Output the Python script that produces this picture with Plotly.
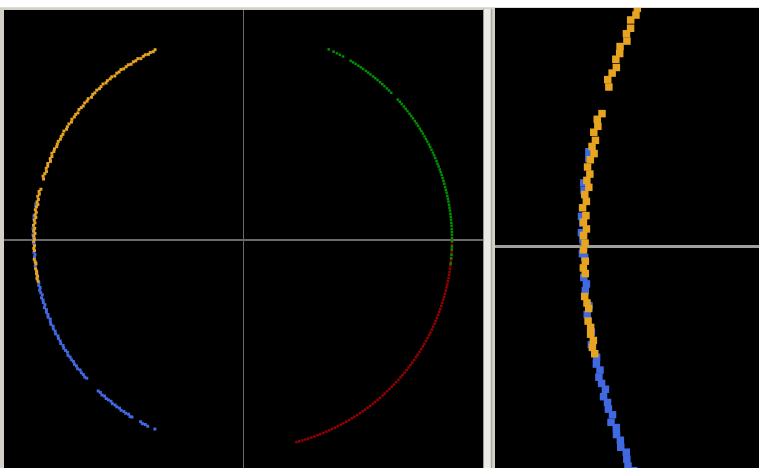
import math
import plotly.graph_objects as go

# ---- data: points on a unit circle, read as (angle in degrees, radius) ----
orange_deg = [114.8, 115.5, 116.3, 117.0, 117.8, 118.5, 119.4, 120.1, 120.9, 121.6,
              122.5, 123.2, 124.0, 124.9, 125.6, 126.4, 127.1, 128.0, 128.8, 129.5,
              130.4, 131.1, 131.9, 132.8, 133.5, 134.3, 135.2, 135.9, 136.7, 137.6,
              138.3, 139.1, 140.0, 140.7, 141.5, 142.4, 143.1, 143.9, 144.8, 145.5,
              146.3, 147.2, 147.9, 148.7, 149.6, 150.3, 151.1, 151.9, 152.7, 153.4,
              154.2, 154.9, 155.6, 156.4, 157.1, 157.8, 158.6, 159.3, 160.0, 160.8,
              161.5, 162.3, 163.0,
              165.9, 166.6, 167.3, 168.0, 168.8, 169.5, 170.2, 170.9, 171.7, 172.4,
              173.1, 173.8, 174.6, 175.3, 176.0, 176.8, 177.5, 178.2, 178.9, 179.7,
              180.4, 181.6, 182.3, 182.9, 185.3, 186.0, 186.6, 187.9, 188.6, 189.3,
              190.0, 190.7, 191.4]
orange_r = [1.003, 0.998, 1.001, 0.997, 1.002, 1.000, 0.996, 1.003, 0.999, 1.001,
            0.997, 1.002, 1.000, 0.998, 1.003, 0.999, 1.001, 0.996, 1.002, 0.999,
            1.001, 0.997, 1.003, 1.000, 0.998, 1.002, 0.999, 1.001, 0.996, 1.003,
            0.999, 1.002, 0.998, 1.000, 1.003, 0.997, 1.001, 0.999, 1.002, 0.996,
            1.001, 1.000, 0.997, 1.003, 0.999, 1.001, 0.998, 1.002, 1.000, 0.997,
            1.002, 0.999, 1.004, 0.998, 1.001, 0.995, 1.003, 0.999, 1.002, 0.996,
            1.000, 1.004, 0.998,
            0.997, 1.003, 0.999, 1.004, 0.998, 1.002, 0.996, 1.001, 1.004, 0.998,
            1.002, 0.997, 1.003, 0.999, 1.005, 0.998, 1.002, 0.996, 1.001, 0.998,
            1.001, 0.998, 1.002, 0.999, 1.003, 1.000, 0.998, 1.002, 0.999, 1.001,
            0.998, 1.002, 1.000]

blue_deg = [170.1, 170.8, 173.4, 174.2, 176.9, 177.6, 178.6, 179.3, 180.1, 180.8,
            181.2, 183.3, 184.0, 184.7, 186.3, 187.2, 189.1, 190.4, 191.8, 192.5,
            193.2, 193.9, 194.6, 195.3, 196.0, 196.7, 197.4, 198.1, 198.8, 199.5,
            200.2, 200.9, 201.6, 202.3, 203.0, 203.7, 204.4, 205.1, 205.9, 206.6,
            207.4, 208.1, 208.9, 209.6, 210.4, 211.1, 211.9, 212.6, 213.4, 214.1,
            214.9, 215.6, 216.4, 217.1, 217.9, 218.6, 219.4, 220.1, 220.9, 221.5,
            226.2, 226.9, 227.7, 228.4, 229.2, 229.9, 230.7, 231.4, 232.2, 232.9,
            233.7, 234.4, 235.2, 235.9, 236.7, 237.4, 237.9, 240.6, 241.3, 242.1,
            242.9, 245.0]
blue_r = [1.006, 1.004, 1.007, 1.005, 1.006, 1.003, 1.005, 1.002, 1.001, 1.003,
          0.999, 1.002, 0.998, 1.001, 0.997, 1.002, 0.999, 1.003, 0.998, 1.001,
          0.997, 1.002, 1.000, 0.996, 1.003, 0.999, 1.001, 0.997, 1.004, 0.998,
          1.002, 0.999, 1.003, 0.997, 1.001, 1.004, 0.998, 1.002, 0.999, 1.003,
          0.997, 1.001, 0.999, 1.003, 0.998, 1.002, 1.000, 0.997, 1.003, 0.999,
          1.001, 0.998, 1.002, 0.999, 1.003, 0.997, 1.001, 0.999, 1.002, 0.998,
          1.001, 0.999, 1.003, 0.998, 1.002, 1.000, 0.997, 1.002, 0.999, 1.001,
          0.998, 1.002, 0.999, 1.001, 0.997, 1.003, 1.000, 0.998, 1.002, 0.999,
          1.001, 0.998]

green_deg = [65.8, 64.3, 63.3, 62.4, 61.4,
             59.0, 58.2, 57.4, 56.5, 55.7, 54.9, 54.0, 53.2, 52.4, 51.5, 50.7, 49.9,
             49.0, 48.2, 47.4, 46.5, 45.7, 44.8,
             42.2, 41.4, 40.6, 39.7, 38.9, 38.1, 37.2, 36.4, 35.6, 34.7, 33.9, 33.1,
             32.2, 31.4, 30.6, 29.7, 28.9, 28.1, 27.2, 26.4, 25.6, 24.7, 23.9, 23.1,
             22.2, 21.4, 20.6, 19.7, 18.9, 18.1, 17.2, 16.4, 15.6, 14.7, 13.9, 13.1,
             12.2, 11.4, 10.6, 9.7, 8.9, 8.1, 7.2, 6.4, 5.6, 4.7, 3.9, 3.0, 2.2, 1.4,
             0.5, -0.3, -1.8, -2.6, -4.1, -5.0, -6.5]

red_deg = [0.4, -0.5, -1.4, -2.9, -3.7, -5.3, -6.1, -7.0, -7.9, -8.8,
           -9.6, -10.5, -11.4, -12.3, -13.1, -14.0, -14.9, -15.8, -16.6, -17.5,
           -18.4, -19.3, -20.1, -21.0, -21.9, -22.8, -23.6, -24.5, -25.4, -26.3,
           -27.1, -28.0, -28.9, -29.8, -30.6, -31.5, -32.4, -33.3, -34.1, -35.0,
           -35.9, -36.8, -37.6, -38.5, -39.4, -40.3, -41.1, -42.0, -42.9, -43.8,
           -44.6, -45.5, -46.4, -47.3, -48.1, -49.0, -49.9, -50.8, -51.6, -52.5,
           -53.4, -54.3, -55.1, -56.0, -56.9, -57.8, -58.6, -59.5, -60.4, -61.3,
           -62.1, -63.0, -63.9, -64.8, -65.6, -66.5, -67.4, -68.3, -69.1, -70.0,
           -70.9, -71.8, -72.6, -73.5, -74.4, -75.2]
circle_r = 1.0

W, H = 759, 468


def to_xy(degs, radii):
    xs = [r * math.cos(math.radians(d)) for d, r in zip(degs, radii)]
    ys = [r * math.sin(math.radians(d)) for d, r in zip(degs, radii)]
    return xs, ys


series = [
    ("blue", blue_deg, blue_r, "#4169e1", 3.0),
    ("orange", orange_deg, orange_r, "#e6a420", 3.0),
    ("red", red_deg, [circle_r] * len(red_deg), "#960000", 2.5),
    ("green", green_deg, [circle_r] * len(green_deg), "#009000", 2.5),
]

fig = go.Figure()
for name, degs, radii, col, sz in series:
    xs, ys = to_xy(degs, radii)
    fig.add_trace(go.Scatter(x=xs, y=ys, mode="markers", name=name,
                             marker=dict(symbol="square", size=sz, color=col, line=dict(width=0)),
                             xaxis="x", yaxis="y", hoverinfo="skip"))
    fig.add_trace(go.Scatter(x=xs, y=ys, mode="markers", name=name,
                             marker=dict(symbol="square", size=7.5, color=col, line=dict(width=0)),
                             xaxis="x2", yaxis="y2", hoverinfo="skip"))

# pixel geometry -> axis ranges
L_x0, L_x1, L_y0, L_y1, L_cx, L_cy, L_R = 4, 483, 10, 468, 243, 240, 209
R_x0, R_x1, R_y0, R_y1, R_cx, R_cy, R_R = 495, 759, 8, 468, 1129, 246, 545

ax_common = dict(showgrid=False, showticklabels=False, ticks="", showline=False,
                 zeroline=True, fixedrange=True)

fig.update_layout(
    width=W, height=H, margin=dict(l=0, r=0, t=0, b=0),
    paper_bgcolor="#d4d0c8", plot_bgcolor="black", showlegend=False,
    xaxis=dict(domain=[L_x0 / W, L_x1 / W],
               range=[(L_x0 - L_cx) / L_R, (L_x1 - L_cx) / L_R],
               zerolinecolor="#6a6a6a", zerolinewidth=1.2, **ax_common),
    yaxis=dict(domain=[1 - L_y1 / H, 1 - L_y0 / H],
               range=[-(L_y1 - L_cy) / L_R, (L_cy - L_y0) / L_R],
               zerolinecolor="#6a6a6a", zerolinewidth=2, **ax_common),
    xaxis2=dict(domain=[R_x0 / W, R_x1 / W],
                range=[(R_x0 - R_cx) / R_R, (R_x1 - R_cx) / R_R],
                zerolinecolor="#9a9a9a", zerolinewidth=2, **ax_common),
    yaxis2=dict(domain=[1 - R_y1 / H, 1 - R_y0 / H],
                range=[-(R_y1 - R_cy) / R_R, (R_cy - R_y0) / R_R],
                zerolinecolor="#a0a0a0", zerolinewidth=2.5, **ax_common),
    shapes=[
        dict(type="rect", xref="paper", yref="paper", x0=0, x1=1,
             y0=1 - 7.3 / H, y1=1, fillcolor="white", line=dict(width=0), layer="below"),
        dict(type="rect", xref="paper", yref="paper", x0=484 / W, x1=491 / W,
             y0=0, y1=1 - 9 / H, fillcolor="#eceae4", line=dict(width=0), layer="below"),
        dict(type="line", xref="paper", yref="paper", x0=483.5 / W, x1=483.5 / W,
             y0=0, y1=1 - 9 / H, line=dict(color="#9c9a94", width=1), layer="below"),
        dict(type="line", xref="paper", yref="paper", x0=491.5 / W, x1=491.5 / W,
             y0=0, y1=1 - 9 / H, line=dict(color="#a8a6a0", width=1.5), layer="below"),
    ],
)

fig.write_html("out.html", config={"displayModeBar": False},
               post_script="document.body.style.margin='0';document.body.style.overflow='hidden';")
